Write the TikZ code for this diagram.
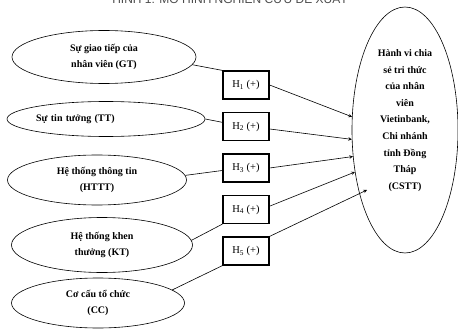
\documentclass[tikz,border=0pt]{standalone}
\usepackage{fontspec}
\setmainfont{Liberation Serif}
\newfontfamily\titlefont{Liberation Sans}
\usetikzlibrary{shapes.geometric,arrows}
\tikzstyle{bienelip} = [ellipse,draw=black,line width=0.6pt,inner sep=0pt,align=center]
\tikzstyle{giathuyet} = [rectangle,draw=black,line width=1.2pt,minimum width=46pt,minimum height=28pt,inner sep=0pt,font=\fontsize{10.5}{12}\selectfont]
\tikzstyle{noi} = [line width=0.6pt]
\tikzstyle{muiten} = [line width=0.6pt,->,>=stealth]

\begin{document}
\begin{tikzpicture}[x=1pt,y=-1pt,node distance=41.5pt]
\tikzstyle{every node}=[font=\bfseries\fontsize{10}{16.5}\selectfont]
\useasboundingbox (0,0) rectangle (458,329);

% tieu de, bi cat phia tren
\node (tieude) [anchor=base,font=\titlefont\fontsize{12}{14}\selectfont,text=black!70] at (230,4) {HÌNH 1: MÔ HÌNH NGHIÊN CỨU ĐỀ XUẤT};

% cac bien doc lap
\node (GT)   [bienelip,minimum width=184pt,minimum height=53pt] at (104,57) {Sự giao tiếp của\\nhân viên (GT)};
\node (TT)   [bienelip,minimum width=198pt,minimum height=35pt,text width=140pt,align=left] at (106,119) {Sự tin tưởng (TT)};
\node (HTTT) [bienelip,minimum width=179pt,minimum height=50pt] at (97,180) {Hệ thống thông tin\\(HTTT)};
\node (KT)   [bienelip,minimum width=181pt,minimum height=55pt] at (102,245) {Hệ thống khen\\thưởng (KT)};
\node (CC)   [bienelip,minimum width=173pt,minimum height=50pt] at (98,303) {Cơ cấu tổ chức\\(CC)};

% cac gia thuyet
\node (H1) [giathuyet] at (246,85) {H\textsubscript{1} (+)};
\node (H2) [giathuyet,below of=H1] {H\textsubscript{2} (+)};
\node (H3) [giathuyet,below of=H2] {H\textsubscript{3} (+)};
\node (H4) [giathuyet,below of=H3] {H\textsubscript{4} (+)};
\node (H5) [giathuyet,below of=H4] {H\textsubscript{5} (+)};

% bien phu thuoc
\node (CSTT) [bienelip,minimum width=106pt,minimum height=246pt,label={[yshift=9.5pt,align=center,font=\bfseries\fontsize{10}{16.6}\selectfont]center:{Hành vi chia\\sẻ tri thức\\của nhân\\viên\\Vietinbank,\\Chi nhánh\\tỉnh Đồng\\Tháp\\(CSTT)}}] at (405,130) {};
\coordinate (dich5) at (367,190);

\draw[noi] (GT.-5) -- (H1.north west);
\draw[noi] (TT.east) -- (H2.170);
\draw[noi] (HTTT.3) -- (H3.186);
\draw[noi] (KT.3) -- (H4.south west);
\draw[noi] (CC.10) -- (H5.south west);

\draw[muiten] (H1.east) -- (CSTT.166);
\draw[muiten] (H2.-6) -- (CSTT.190);
\draw[muiten] (H3.east) -- (CSTT.207);
\draw[muiten] (H4.8) -- (CSTT.220);
\draw[muiten] (H5.north east) -- (dich5);
\end{tikzpicture}
\end{document}
